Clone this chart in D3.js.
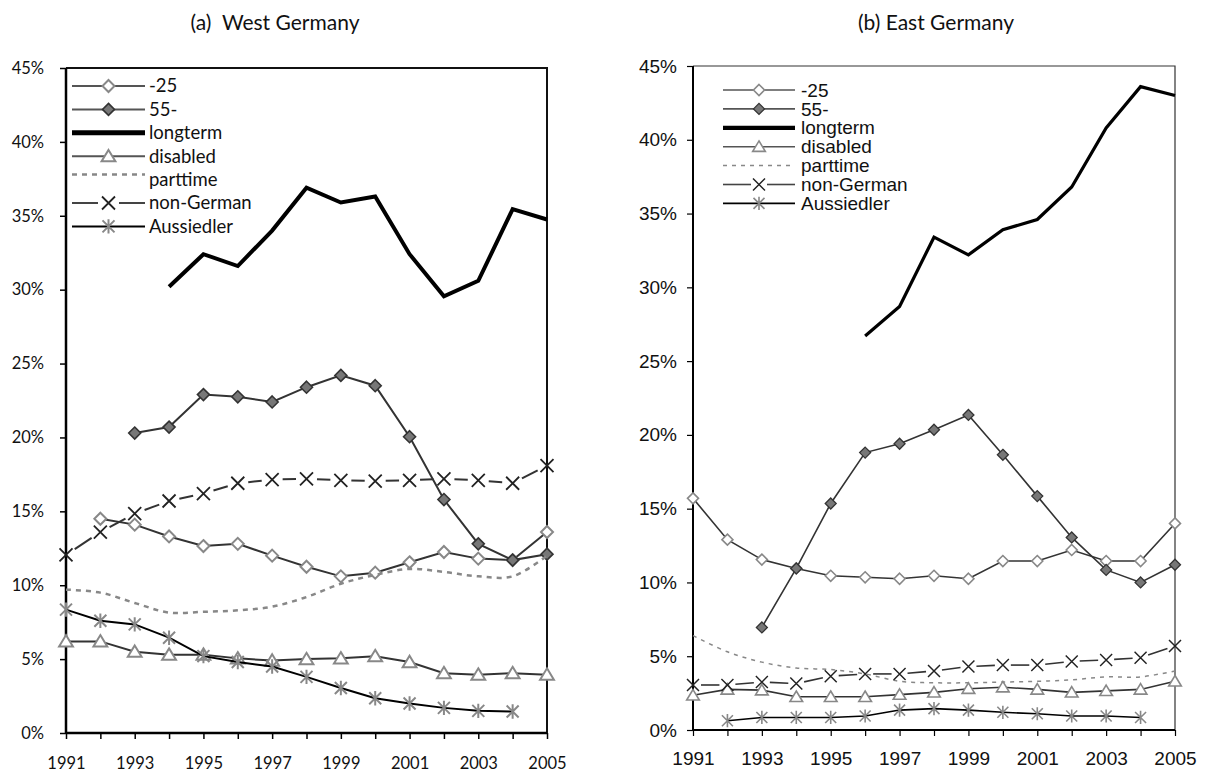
<!DOCTYPE html>
<html><head><meta charset="utf-8">
<script src="https://cdn.jsdelivr.net/npm/d3@7"></script>
<style>body{margin:0;background:#fff}svg{display:block}</style>
</head><body>
<svg id="c" width="1206" height="773"></svg>
<script>
const years = [1991,1992,1993,1994,1995,1996,1997,1998,1999,2000,2001,2002,2003,2004,2005];
const yTicks = [0,5,10,15,20,25,30,35,40,45];
const xTickLabels = [1991,1993,1995,1997,1999,2001,2003,2005];
const seriesNames = ["-25","55-","longterm","disabled","parttime","non-German","Aussiedler"];

// West Germany (%)
const westYoung   = [null,14.5,14.1,13.3,12.65,12.8,12.0,11.25,10.6,10.85,11.55,12.25,11.8,11.7,13.6];
const westOld     = [null,null,20.3,20.7,22.9,22.75,22.4,23.4,24.2,23.5,20.05,15.8,12.8,11.7,12.1];
const westLong    = [null,null,null,30.2,32.4,31.6,34.0,36.9,35.9,36.3,32.4,29.55,30.6,35.45,34.75];
const westDisab   = [6.2,6.2,5.5,5.3,5.3,5.05,4.9,5.0,5.05,5.2,4.8,4.05,3.95,4.05,3.95];
const westPart    = [9.7,9.5,8.8,8.15,8.2,8.3,8.55,9.2,10.1,10.7,11.1,10.9,10.6,10.6,12.0];
const westForeign = [12.05,13.6,14.85,15.7,16.2,16.9,17.15,17.2,17.1,17.05,17.1,17.2,17.1,16.9,18.1];
const westAussied = [8.35,7.6,7.35,6.45,5.2,4.8,4.5,3.8,3.05,2.35,2.0,1.7,1.5,1.45,null];

// East Germany (%)
const eastYoung   = [15.7,12.9,11.55,10.95,10.45,10.35,10.25,10.45,10.25,11.45,11.45,12.2,11.45,11.45,14.0];
const eastOld     = [null,null,6.95,10.95,15.35,18.8,19.4,20.35,21.35,18.65,15.85,13.05,10.85,10.0,11.2];
const eastLong    = [null,null,null,null,null,26.7,28.7,33.4,32.2,33.9,34.6,36.8,40.8,43.6,43.0];
const eastDisab   = [2.35,2.75,2.7,2.25,2.25,2.25,2.4,2.55,2.8,2.9,2.75,2.55,2.65,2.75,3.3];
const eastPart    = [6.4,5.3,4.6,4.2,4.1,3.8,3.3,3.2,3.2,3.25,3.3,3.4,3.6,3.6,4.0];
const eastForeign = [3.05,3.05,3.25,3.15,3.65,3.8,3.8,4.0,4.3,4.4,4.4,4.65,4.75,4.9,5.7];
const eastAussied = [null,0.63,0.85,0.85,0.85,0.95,1.35,1.45,1.35,1.2,1.1,0.95,0.95,0.85,null];

const svg = d3.select("#c");

function drawPanel(cfg) {
  const g = svg.append("g");
  const x = d3.scaleLinear().domain([1991,2005]).range([cfg.left, cfg.right]);
  const y = d3.scaleLinear().domain([0,45]).range([cfg.bottom, cfg.top]);
  const font = cfg.font;

  g.append("text").attr("x", cfg.titleX).attr("y", 30).attr("text-anchor","middle")
    .attr("font-family", cfg.titleFont).attr("font-size", cfg.titleSize).attr("fill","#111")
    .attr("xml:space","preserve").text(cfg.title);

  g.append("path").attr("d", `M${cfg.left},${cfg.top}H${cfg.right}V${cfg.bottom}`)
    .attr("fill","none").attr("stroke", cfg.frameColor).attr("stroke-width", cfg.frameW);

  const yAxis = d3.axisLeft(y).tickValues(yTicks).tickSize(cfg.tickLen).tickPadding(cfg.yPad)
    .tickFormat(d => d + "%");
  const ya = g.append("g").attr("transform", `translate(${cfg.left},0)`).call(yAxis);
  const xAxis = d3.axisBottom(x).tickValues(years).tickSize(cfg.tickLen).tickPadding(cfg.xPad)
    .tickFormat(d => xTickLabels.includes(d) ? String(d) : "");
  const xa = g.append("g").attr("transform", `translate(0,${cfg.bottom})`).call(xAxis);
  [ya, xa].forEach(a => {
    a.select(".domain").attr("stroke","#000").attr("stroke-width", cfg.axisW);
    a.selectAll(".tick line").attr("stroke","#000").attr("stroke-width", cfg.tickW);
    a.selectAll("text").attr("font-family", font).attr("font-size", cfg.tickSize).attr("fill","#111");
  });
  ya.select(".domain").attr("d", `M0,${cfg.bottom}V${cfg.top}`);
  xa.select(".domain").attr("d", `M${cfg.left},0H${cfg.right}`);

  const pts = arr => years.map((yr,i) => ({yr, v: arr[i]}));
  const line = d3.line().defined(d => d.v != null).x(d => x(d.yr)).y(d => y(d.v));
  const smooth = d3.line().defined(d => d.v != null).x(d => x(d.yr)).y(d => y(d.v)).curve(d3.curveCatmullRom.alpha(0.5));
  const lw = cfg.lineW;
  const ms = cfg.ms;
  const mk = {
    diamondOpen: (sel) => sel.append("path").attr("d", `M0,${-ms}L${ms},0L0,${ms}L${-ms},0Z`)
      .attr("fill","#fff").attr("stroke","#888").attr("stroke-width", cfg.mW),
    diamondFill: (sel) => sel.append("path").attr("d", `M0,${-ms}L${ms},0L0,${ms}L${-ms},0Z`)
      .attr("fill","#777").attr("stroke","#333").attr("stroke-width", cfg.mW*0.8),
    triangle: (sel) => sel.append("path").attr("d", `M0,${-ms*1.05}L${ms*1.15},${ms*0.85}L${-ms*1.15},${ms*0.85}Z`)
      .attr("fill","#fff").attr("stroke","#888").attr("stroke-width", cfg.mW),
    cross: (sel) => sel.append("path").attr("d", `M${-cfg.xs},${-cfg.xs}L${cfg.xs},${cfg.xs}M${-cfg.xs},${cfg.xs}L${cfg.xs},${-cfg.xs}`)
      .attr("fill","none").attr("stroke","#222").attr("stroke-width", cfg.mW*0.9),
    star: (sel) => sel.append("path").attr("d", `M${-ms},${-ms}L${ms},${ms}M${-ms},${ms}L${ms},${-ms}M0,${-ms*1.2}V${ms*1.2}`)
      .attr("fill","none").attr("stroke","#888").attr("stroke-width", cfg.mW)
  };

  function markers(arr, type) {
    pts(arr).filter(d => d.v != null).forEach(d => {
      const m = g.append("g").attr("transform", `translate(${x(d.yr)},${y(d.v)})`);
      mk[type](m);
    });
  }
  function gappedLine(arr, gap, color, w) {
    const p = pts(arr).filter(d => d.v != null);
    for (let i = 0; i < p.length - 1; i++) {
      const x0 = x(p[i].yr), y0 = y(p[i].v), x1 = x(p[i+1].yr), y1 = y(p[i+1].v);
      const dx = x1 - x0, dy = y1 - y0, L = Math.hypot(dx, dy);
      const ux = dx / L, uy = dy / L;
      g.append("line").attr("x1", x0 + ux*gap).attr("y1", y0 + uy*gap)
        .attr("x2", x1 - ux*gap).attr("y2", y1 - uy*gap)
        .attr("stroke", color).attr("stroke-width", w);
    }
  }

  const S = cfg.series;
  g.append("path").attr("d", line(pts(S.young))).attr("fill","none").attr("stroke","#333").attr("stroke-width", lw);
  markers(S.young, "diamondOpen");
  g.append("path").attr("d", line(pts(S.old))).attr("fill","none").attr("stroke","#333").attr("stroke-width", lw);
  markers(S.old, "diamondFill");
  g.append("path").attr("d", line(pts(S.long))).attr("fill","none").attr("stroke","#000").attr("stroke-width", cfg.longW).attr("stroke-linejoin","miter");
  g.append("path").attr("d", line(pts(S.disab))).attr("fill","none").attr("stroke","#333").attr("stroke-width", lw);
  markers(S.disab, "triangle");
  g.append("path").attr("d", smooth(pts(S.part))).attr("fill","none").attr("stroke","#888").attr("stroke-width", cfg.partW).attr("stroke-dasharray", cfg.partDash);
  gappedLine(S.foreign, cfg.gap, "#333", lw);
  markers(S.foreign, "cross");
  g.append("path").attr("d", line(pts(S.auss))).attr("fill","none").attr("stroke","#000").attr("stroke-width", lw);
  markers(S.auss, "star");

  const L = cfg.legend;
  seriesNames.forEach((name, i) => {
    const ly = L.y0 + i * L.dy;
    const lg = g.append("g");
    const cx = (L.x0 + L.x1) / 2;
    const addMarker = (type) => { const m = lg.append("g").attr("transform", `translate(${cx},${ly})`); mk[type](m); };
    if (name === "-25" || name === "55-" || name === "disabled") {
      lg.append("line").attr("x1", L.x0).attr("x2", L.x1).attr("y1", ly).attr("y2", ly).attr("stroke","#555").attr("stroke-width", lw);
      addMarker(name === "-25" ? "diamondOpen" : name === "55-" ? "diamondFill" : "triangle");
    } else if (name === "longterm") {
      lg.append("line").attr("x1", L.x0).attr("x2", L.x1).attr("y1", ly).attr("y2", ly).attr("stroke","#000").attr("stroke-width", cfg.longW + 1);
    } else if (name === "parttime") {
      lg.append("line").attr("x1", L.x0).attr("x2", L.x1).attr("y1", ly - L.partOff).attr("y2", ly - L.partOff).attr("stroke","#888").attr("stroke-width", cfg.partW).attr("stroke-dasharray", cfg.partDash);
    } else if (name === "non-German") {
      lg.append("line").attr("x1", L.x0).attr("x2", cx - cfg.gap).attr("y1", ly).attr("y2", ly).attr("stroke","#444").attr("stroke-width", lw);
      lg.append("line").attr("x1", cx + cfg.gap).attr("x2", L.x1).attr("y1", ly).attr("y2", ly).attr("stroke","#444").attr("stroke-width", lw);
      addMarker("cross");
    } else {
      lg.append("line").attr("x1", L.x0).attr("x2", L.x1).attr("y1", ly).attr("y2", ly).attr("stroke","#000").attr("stroke-width", lw);
      addMarker("star");
    }
    lg.append("text").attr("x", L.x1 + L.tpad).attr("y", ly).attr("dy", "0.35em")
      .attr("font-family", font).attr("font-size", L.size).attr("fill","#111").text(name);
  });
}

drawPanel({
  title: "(a)  West Germany", titleX: 275, titleFont: "Lato", titleSize: 21,
  left: 66, right: 547, top: 68, bottom: 733,
  font: "Lato", tickSize: 16.5, yPad: 16, xPad: 18, tickLen: 6, tickW: 1.5, axisW: 2.5,
  frameColor: "#111", frameW: 2,
  lineW: 2, longW: 4, partW: 2.5, partDash: "5,5", ms: 6, xs: 6.5, mW: 2, gap: 10.5,
  series: {young: westYoung, old: westOld, long: westLong, disab: westDisab, part: westPart, foreign: westForeign, auss: westAussied},
  legend: {x0: 72, x1: 145, y0: 86, dy: 23.4, tpad: 4, size: 18.5, partOff: 5}
});

drawPanel({
  title: "(b) East Germany", titleX: 936, titleFont: "Lato", titleSize: 21,
  left: 693, right: 1175, top: 66, bottom: 730,
  font: "Liberation Sans", tickSize: 19, yPad: 10, xPad: 16, tickLen: 6, tickW: 1.2, axisW: 2,
  frameColor: "#333", frameW: 1.2,
  lineW: 1.6, longW: 3.2, partW: 1.5, partDash: "4,5", ms: 5.5, xs: 6, mW: 1.6, gap: 8,
  series: {young: eastYoung, old: eastOld, long: eastLong, disab: eastDisab, part: eastPart, foreign: eastForeign, auss: eastAussied},
  legend: {x0: 723, x1: 795, y0: 90, dy: 18.9, tpad: 6, size: 19, partOff: 0}
});
</script>
</body></html>
